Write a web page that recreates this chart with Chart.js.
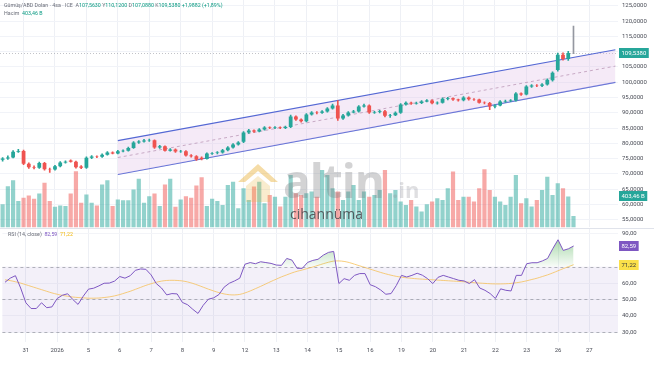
<!DOCTYPE html>
<html>
<head>
<meta charset="utf-8">
<script src="https://cdn.jsdelivr.net/npm/chart.js@4.4.1/dist/chart.umd.min.js"></script>
<style>
  html, body { margin: 0; padding: 0; background: #fff; }
  #wrap { position: relative; width: 654px; height: 366px; overflow: hidden; background: #fff; font-family: Roboto, sans-serif; }
  canvas { position: absolute; left: 0; }
  .hdr { position: absolute; left: 4px; font-size: 5.3px; color: #6a6d78; white-space: nowrap; }
  .g { color: #089981; }
  .wm { position: absolute; pointer-events: none; white-space: nowrap; }
  #sep { position: absolute; left: 0; top: 228px; width: 654px; height: 1px; background: #e0e3eb; }
</style>
</head>
<body>
<div id="wrap">
  <canvas id="priceChart" width="654" height="228" style="top:0"></canvas>
  <canvas id="rsiChart" width="654" height="138" style="top:228px"></canvas>
  <div id="sep"></div>

  <svg class="wm" style="left:234px;top:160px" width="48" height="46" viewBox="0 0 48 46">
    <path d="M4 22 L24 4 L44 22 L37 22 L24 11 L11 22 Z" fill="rgba(232,178,60,0.45)"/>
    <path d="M12 26 L24 16 L36 26 L36 42 L12 42 Z" fill="rgba(232,178,60,0.25)"/>
  </svg>
  <div class="wm" style="left:283px;top:149px;font:700 46px 'Open Sans';color:rgba(120,120,125,0.33);letter-spacing:-1px">altin</div>
  <div class="wm" style="left:392px;top:174px;font:700 22px 'Open Sans';color:rgba(150,150,155,0.3)">.in</div>
  <div class="wm" style="left:290px;top:204px;font:400 14px 'Open Sans';color:rgba(70,70,75,0.85)">cihannüma</div>

  <div class="hdr" style="top:2px">Gümüş/ABD Doları · 4sa · ICE &nbsp;A<span class="g">107,5630</span> Y<span class="g">110,1200</span> D<span class="g">107,0880</span> K<span class="g">109,5380</span> <span class="g">+1,9882 (+1,89%)</span></div>
  <div class="hdr" style="top:10px">Hacim &nbsp;<span class="g">403,46 B</span></div>
  <div class="hdr" style="top:231px;left:8px">RSI (14, close) &nbsp;<span style="color:#7e57c2">82,59</span> &nbsp;<span style="color:#f2b90f">71,22</span></div>
</div>

<script>
// 4 hour slots, six per trading day
const slotCount = 118;
const daySlots = [4, 10, 16, 22, 28, 34, 40, 46, 52, 58, 64, 70, 76, 82, 88, 94, 100, 106, 112];
const dayNames = ['31', '2026', '5', '6', '7', '8', '9', '12', '13', '14', '15', '16', '19', '20', '21', '22', '23', '26', '27'];

const opens = [
  74.6, 75.0, 75.4, 77.2, 77.5, 73.3, 72.2, 72.0, 73.6, 71.5,
  71.4, 72.5, 73.7, 74.4, 74.0, 72.4, 72.0, 75.3, 75.7, 75.6,
  76.3, 77.0, 76.7, 77.4, 77.6, 78.5, 80.3, 80.6, 80.9, 81.0,
  78.6, 79.0, 77.6, 78.0, 77.3, 77.4, 76.0, 75.8, 75.3, 74.9,
  76.7, 76.8, 77.0, 77.7, 78.6, 79.6, 80.5, 83.5, 84.2, 83.9,
  84.5, 85.2, 85.0, 85.2, 85.0, 85.3, 88.8, 87.8, 87.2, 89.4,
  90.1, 90.0, 90.4, 91.4, 92.4, 88.1, 89.1, 90.1, 90.4, 92.0,
  92.4, 90.1, 90.2, 90.5, 89.0, 89.2, 90.0, 92.7, 93.3, 93.0,
  93.2, 93.7, 94.0, 93.1, 93.3, 94.5, 94.7, 94.3, 94.1, 95.0,
  94.4, 94.3, 93.3, 93.2, 92.0, 92.4, 93.7, 93.8, 94.0, 96.3,
  96.0, 98.6, 98.9, 98.8, 99.2, 100.6, 104.0, 109.0, 107.563, 109.45
];
const highs = [
  75.3, 75.9, 77.6, 78.0, 77.8, 73.6, 72.6, 73.9, 73.8, 71.9,
  72.8, 74.0, 74.3, 74.6, 74.2, 72.7, 75.6, 76.0, 75.9, 76.6,
  77.3, 77.2, 77.7, 77.9, 78.8, 80.6, 80.9, 81.3, 81.4, 81.1,
  79.3, 79.2, 78.3, 78.2, 77.7, 77.6, 76.3, 76.0, 75.6, 76.9,
  77.0, 77.3, 78.0, 78.9, 79.9, 80.6, 83.8, 84.6, 84.4, 84.8,
  85.5, 85.4, 85.5, 85.4, 85.6, 89.2, 89.0, 88.0, 89.7, 90.4,
  90.4, 90.7, 91.7, 92.8, 94.0, 89.5, 90.4, 90.8, 92.3, 92.8,
  92.6, 90.5, 90.8, 90.8, 89.5, 90.3, 93.0, 93.6, 93.5, 93.5,
  94.0, 94.3, 94.2, 93.6, 94.9, 95.0, 94.9, 94.5, 95.3, 95.2,
  94.6, 94.5, 93.6, 93.4, 92.7, 94.0, 94.1, 94.3, 96.6, 96.5,
  98.9, 99.2, 99.2, 99.5, 101.1, 103.4, 109.5, 109.6, 110.12, 118.3
];
const lows = [
  74.2, 74.7, 75.2, 77.0, 73.0, 71.8, 71.6, 71.8, 71.2, 70.5,
  71.2, 72.3, 73.5, 73.8, 71.9, 71.7, 71.8, 75.0, 75.3, 75.4,
  76.1, 76.5, 76.5, 77.2, 77.4, 78.3, 80.0, 80.4, 80.6, 78.3,
  78.3, 77.4, 77.4, 77.0, 77.0, 75.8, 75.5, 74.4, 74.6, 74.8,
  76.4, 76.5, 76.8, 77.5, 78.4, 79.4, 80.2, 83.2, 83.6, 83.7,
  84.3, 84.8, 84.8, 84.8, 84.8, 85.1, 87.5, 86.9, 87.0, 89.2,
  89.6, 89.8, 90.2, 91.2, 87.5, 87.8, 88.9, 89.9, 90.2, 91.8,
  89.8, 89.8, 89.9, 88.6, 88.5, 89.0, 89.8, 92.5, 92.7, 92.8,
  93.0, 93.5, 92.9, 92.8, 93.1, 94.2, 94.0, 93.8, 93.9, 94.1,
  94.0, 93.1, 92.9, 91.0, 91.6, 92.2, 93.4, 93.6, 93.8, 95.7,
  95.8, 98.3, 98.5, 98.5, 99.0, 100.3, 103.6, 107.2, 107.088, 109.3
];
const closes = [
  75.0, 75.4, 77.2, 77.5, 73.3, 72.2, 72.0, 73.6, 71.5, 71.4,
  72.5, 73.7, 74.0, 74.0, 72.2, 72.0, 75.3, 75.7, 75.6, 76.3,
  77.0, 76.7, 77.4, 77.6, 78.5, 80.3, 80.6, 80.9, 81.0, 78.6,
  79.0, 77.6, 78.0, 77.3, 77.4, 76.0, 75.8, 74.7, 74.9, 76.7,
  76.8, 77.0, 77.7, 78.6, 79.6, 80.3, 83.5, 84.2, 83.9, 84.5,
  85.2, 85.0, 85.2, 85.0, 85.3, 88.8, 87.8, 87.2, 89.4, 90.1,
  90.0, 90.4, 91.4, 92.4, 88.1, 89.1, 90.1, 90.4, 92.0, 92.4,
  90.1, 90.2, 90.5, 89.0, 89.2, 90.0, 92.7, 93.3, 93.0, 93.2,
  93.7, 94.0, 93.1, 93.3, 94.6, 94.7, 94.3, 94.1, 95.0, 94.4,
  94.3, 93.3, 93.2, 92.0, 92.4, 93.7, 93.8, 94.0, 96.3, 96.0,
  98.6, 98.9, 98.8, 99.2, 100.8, 103.1, 109.0, 107.563, 109.538, 109.538
];
// volume in thousands
const volumes = [
  300, 537, 615, 342, 386, 416, 373, 442, 581, 342,
  269, 286, 277, 442, 732, 321, 429, 321, 286, 559,
  615, 277, 364, 355, 355, 494, 633, 321, 407, 442,
  277, 559, 633, 269, 364, 407, 386, 546, 654, 277,
  373, 342, 292, 552, 595, 249, 509, 357, 531, 595,
  314, 422, 400, 271, 400, 682, 444, 422, 444, 466,
  400, 747, 682, 509, 466, 357, 466, 552, 357, 466,
  400, 422, 487, 747, 444, 487, 336, 292, 357, 271,
  206, 300, 336, 379, 357, 509, 726, 357, 400, 400,
  336, 509, 756, 487, 400, 336, 292, 400, 682, 314,
  379, 271, 357, 487, 660, 422, 574, 509, 403.46, 150
];
const rsiValues = [
  60.5, 63.0, 64.5, 57.0, 48.0, 44.5, 44.5, 48.0, 45.0, 45.5,
  50.6, 52.6, 53.5, 50.0, 47.0, 52.0, 56.3, 56.9, 58.3, 59.9,
  60.0, 61.2, 64.0, 63.0, 64.5, 67.8, 68.6, 68.4, 65.0, 59.7,
  57.0, 52.8, 53.6, 53.4, 48.2, 46.8, 44.0, 41.5, 46.5, 50.2,
  51.0, 53.0, 57.5, 59.9, 61.3, 63.0, 71.5, 72.5, 71.8, 73.0,
  72.5, 72.0, 71.0, 70.8, 75.0, 74.0, 69.0, 69.0, 72.6, 73.8,
  74.5, 77.0, 78.7, 79.3, 59.7, 62.7, 61.7, 64.7, 65.8, 65.8,
  59.0, 57.8, 55.8, 53.2, 53.6, 58.5, 64.7, 63.7, 64.7, 66.0,
  64.8, 62.7, 59.7, 63.5, 64.7, 63.7, 62.7, 61.7, 61.3, 59.7,
  62.1, 57.0, 55.6, 53.6, 50.6, 56.5, 55.6, 55.2, 64.7, 64.7,
  71.8, 72.4, 72.4, 73.5, 75.0, 81.0, 86.4, 79.9, 80.9, 82.59
];
const rsiMaValues = [
  62.0, 61.5, 60.8, 60.0, 59.0, 58.0, 57.0, 56.0, 55.0, 54.0,
  53.2, 52.5, 52.0, 51.5, 51.2, 51.0, 50.8, 50.8, 50.9, 51.2,
  51.6, 52.2, 53.0, 54.0, 55.0, 56.2, 57.4, 58.6, 59.6, 60.5,
  61.2, 61.6, 61.7, 61.6, 61.3, 60.7, 59.8, 58.7, 57.5, 56.3,
  55.2, 54.2, 53.4, 52.9, 52.8, 53.1, 54.0, 55.2, 56.6, 58.0,
  59.5, 61.0, 62.4, 63.8, 65.0, 66.2, 67.2, 68.0, 68.9, 69.8,
  70.8, 71.8, 72.7, 73.4, 73.5, 73.2, 72.5, 71.5, 70.5, 69.5,
  68.5, 67.5, 66.5, 65.6, 64.8, 64.1, 63.6, 63.2, 62.9, 62.6,
  62.4, 62.2, 62.0, 61.8, 61.6, 61.4, 61.2, 61.0, 60.8, 60.5,
  60.2, 60.0, 59.8, 59.6, 59.5, 59.5, 59.6, 59.8, 60.2, 60.7,
  61.4, 62.2, 63.0, 64.0, 65.0, 66.2, 67.5, 68.8, 70.0, 71.22
];

// regression channel end points (slot, price)
const channelSlots = [22, 117];
const channelUpper = [80.9, 110.6];
const channelMid = [75.35, 105.25];
const channelLower = [69.8, 99.9];

const priceTicks = [55, 60, 65, 70, 75, 80, 85, 90, 95, 100, 105, 110, 115, 120, 125];
const rsiTicks = [30, 40, 50, 60, 90];
const rsiBands = [30, 50, 70];

const lastPrice = 109.538;
const lastVolume = 403.46;
const lastRsi = 82.59;
const lastRsiMa = 71.22;

const upColor = '#26a69a';
const downColor = '#ef5350';
const tickFont = { family: 'Roboto', size: 6 };
const tickColor = '#4a4d57';

const xLabels = Array.from({ length: slotCount }, () => '');
daySlots.forEach((s, i) => { xLabels[s] = dayNames[i]; });

function atSlots(vals) {
  const arr = new Array(slotCount).fill(null);
  channelSlots.forEach((s, i) => { arr[s] = vals[i]; });
  return arr;
}
function trFmt(v, d) { return v.toFixed(d).replace('.', ','); }

const candleColors = closes.map((c, i) =>
  i === closes.length - 1 ? '#9598a1' : (c >= opens[i] ? upColor : downColor));
const volumeColors = closes.map((c, i) =>
  c >= opens[i] ? 'rgba(38,166,154,0.5)' : 'rgba(239,83,80,0.5)');

function xGrid(ctx) {
  return xLabels[ctx.index] ? '#eef0f5' : 'rgba(0,0,0,0)';
}

function drawBox(chart, y, bg, fg, text) {
  const c = chart.ctx;
  c.save();
  c.font = '6px Roboto';
  const w = c.measureText(text).width + 5;
  c.fillStyle = bg;
  c.fillRect(619, Math.round(y - 5), w, 10);
  c.fillStyle = fg;
  c.textBaseline = 'middle';
  c.fillText(text, 621.5, Math.round(y) + 0.5);
  c.restore();
}

// make the plot area of a chart land on the wanted page rows
function placeChart(canvasId, makeConfig, pageTop, areaHeight) {
  const canvas = document.getElementById(canvasId);
  let chart = new Chart(canvas, makeConfig());
  const extra = chart.height - (chart.chartArea.bottom - chart.chartArea.top);
  chart.destroy();
  canvas.width = 654;
  canvas.height = Math.round(areaHeight + extra);
  chart = new Chart(canvas, makeConfig());
  canvas.style.top = (pageTop - chart.chartArea.top) + 'px';
  return chart;
}

const priceOverlay = {
  id: 'priceOverlay',
  beforeDatasetsDraw(chart) {
    const c = chart.ctx;
    const y = chart.scales.y.getPixelForValue(lastPrice);
    c.save();
    c.strokeStyle = 'rgba(120,123,134,0.45)';
    c.lineWidth = 1;
    c.setLineDash([1, 2]);
    c.beginPath();
    c.moveTo(chart.chartArea.left, Math.round(y) + 0.5);
    c.lineTo(chart.chartArea.right, Math.round(y) + 0.5);
    c.stroke();
    c.restore();
  },
  afterDraw(chart) {
    drawBox(chart, chart.scales.y.getPixelForValue(lastPrice), '#26a69a', '#fff', trFmt(lastPrice, 4));
    drawBox(chart, chart.scales.yv.getPixelForValue(lastVolume), '#26a69a', '#fff', trFmt(lastVolume, 2) + ' B');
  }
};

const priceConfig = () => ({
  type: 'bar',
  data: {
    labels: xLabels,
    datasets: [
      {
        type: 'line', data: atSlots(channelUpper), spanGaps: true,
        borderColor: '#5468d4', borderWidth: 1.2, pointRadius: 0,
        fill: '+1', backgroundColor: 'rgba(225,190,231,0.32)', order: 3
      },
      {
        type: 'line', data: atSlots(channelLower), spanGaps: true,
        borderColor: '#5468d4', borderWidth: 1.2, pointRadius: 0, fill: false, order: 3
      },
      {
        type: 'line', data: atSlots(channelMid), spanGaps: true,
        borderColor: 'rgba(160,120,150,0.7)', borderWidth: 1, borderDash: [3, 3],
        pointRadius: 0, fill: false, order: 3
      },
      {
        data: volumes, yAxisID: 'yv', backgroundColor: volumeColors,
        barPercentage: 0.8, categoryPercentage: 1, grouped: false, order: 4
      },
      {
        data: lows.map((l, i) => [l, highs[i]]), backgroundColor: candleColors,
        barThickness: 1, grouped: false, order: 2
      },
      {
        data: opens.map((o, i) => [o, closes[i]]), backgroundColor: candleColors,
        barPercentage: 0.72, categoryPercentage: 1, grouped: false, order: 1
      }
    ]
  },
  options: {
    responsive: false,
    maintainAspectRatio: false,
    animation: false,
    layout: { padding: 0 },
    plugins: { legend: { display: false }, tooltip: { enabled: false } },
    scales: {
      x: {
        offset: true,
        grid: { offset: false, color: xGrid, drawTicks: false },
        ticks: { display: false, autoSkip: false },
        border: { display: false }
      },
      y: {
        position: 'right', min: 52.5, max: 127,
        afterBuildTicks: ax => { ax.ticks = priceTicks.map(v => ({ value: v })); },
        afterFit: ax => { ax.width = 36; },
        ticks: { font: tickFont, color: tickColor, padding: 4, callback: v => trFmt(v, 4) },
        grid: { color: '#f1f3f8', drawTicks: false },
        border: { display: false }
      },
      yv: { display: false, min: 0, max: 2965 }
    }
  },
  plugins: [priceOverlay]
});

const rsiOverlay = {
  id: 'rsiOverlay',
  beforeDatasetsDraw(chart) {
    const c = chart.ctx;
    const { left, right } = chart.chartArea;
    const ys = chart.scales.y;
    const top = ys.getPixelForValue(rsiBands[2]);
    const bottom = ys.getPixelForValue(rsiBands[0]);
    c.save();
    c.fillStyle = 'rgba(126,87,194,0.09)';
    c.fillRect(left, top, right - left, bottom - top);
    c.strokeStyle = 'rgba(120,123,134,0.55)';
    c.lineWidth = 1;
    c.setLineDash([3, 3]);
    rsiBands.forEach(v => {
      const y = Math.round(ys.getPixelForValue(v)) + 0.5;
      c.beginPath();
      c.moveTo(left, y);
      c.lineTo(right, y);
      c.stroke();
    });
    c.restore();
  },
  afterDraw(chart) {
    drawBox(chart, chart.scales.y.getPixelForValue(lastRsi), '#7e57c2', '#fff', trFmt(lastRsi, 2));
    drawBox(chart, chart.scales.y.getPixelForValue(lastRsiMa), '#fbe04a', '#3a3a3a', trFmt(lastRsiMa, 2));
  }
};

const rsiConfig = () => ({
  type: 'line',
  data: {
    labels: xLabels,
    datasets: [
      {
        data: rsiValues, borderColor: '#7e57c2', borderWidth: 1, pointRadius: 0, tension: 0,
        fill: { target: { value: 70 }, below: 'rgba(0,0,0,0)' },
        backgroundColor: ctx => {
          const { chart } = ctx;
          if (!chart.chartArea) return 'rgba(76,175,80,0.2)';
          const ys = chart.scales.y;
          const g = chart.ctx.createLinearGradient(0, ys.getPixelForValue(88), 0, ys.getPixelForValue(70));
          g.addColorStop(0, 'rgba(76,175,80,0.5)');
          g.addColorStop(1, 'rgba(76,175,80,0.04)');
          return g;
        },
        order: 1
      },
      {
        data: rsiMaValues, borderColor: 'rgba(246,190,80,0.75)', borderWidth: 1,
        pointRadius: 0, tension: 0.3, fill: false, order: 2
      }
    ]
  },
  options: {
    responsive: false,
    maintainAspectRatio: false,
    animation: false,
    layout: { padding: 0 },
    plugins: { legend: { display: false }, tooltip: { enabled: false } },
    scales: {
      x: {
        offset: true,
        grid: { offset: false, color: xGrid, drawTicks: false },
        ticks: { autoSkip: false, maxRotation: 0, font: tickFont, color: tickColor, padding: 5 },
        afterFit: ax => { ax.height = 22; },
        border: { display: false }
      },
      y: {
        position: 'right', min: 24.1, max: 93.2,
        afterBuildTicks: ax => { ax.ticks = rsiTicks.map(v => ({ value: v })); },
        afterFit: ax => { ax.width = 36; },
        ticks: { font: tickFont, color: tickColor, padding: 4, callback: v => trFmt(v, 2) },
        grid: { color: '#f3f4f8', drawTicks: false },
        border: { display: false }
      }
    }
  },
  plugins: [rsiOverlay]
});

placeChart('priceChart', priceConfig, 0, 228);
placeChart('rsiChart', rsiConfig, 229, 113);
</script>
</body>
</html>
